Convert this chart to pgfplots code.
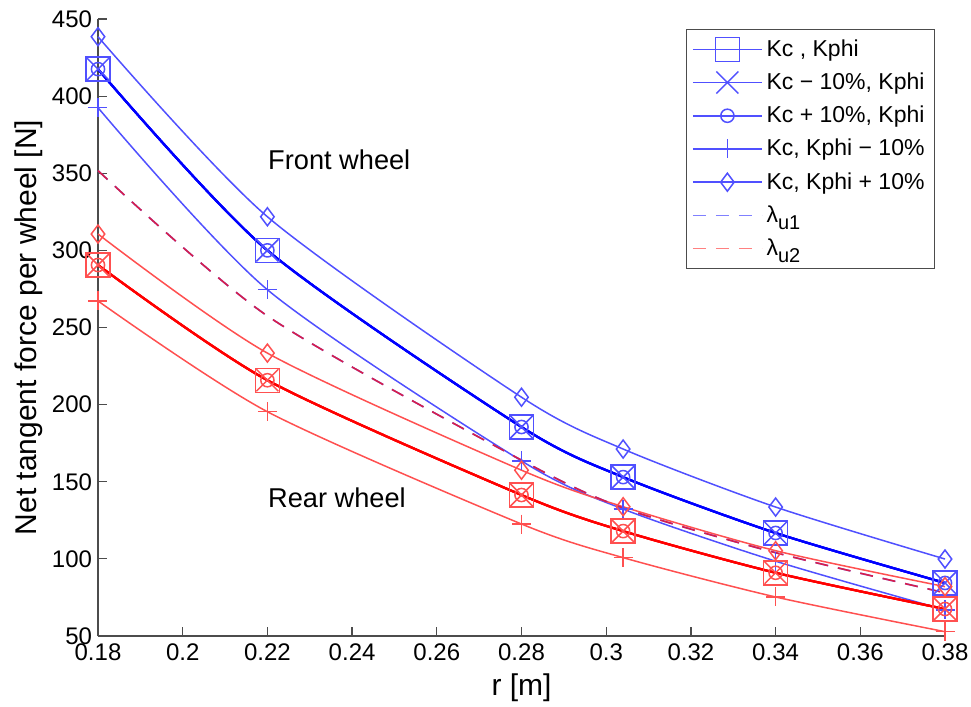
\documentclass[border=0pt]{standalone}
\usepackage{pgfplots}
\usepackage{pgfplotstable}
\pgfplotsset{compat=1.18}
\usepackage{fontspec}
\setmainfont{Liberation Sans}

\definecolor{fb}{RGB}{0,0,255}
\definecolor{fr}{RGB}{255,0,0}
\definecolor{fbl}{RGB}{80,80,255}
\definecolor{frl}{RGB}{255,80,80}
\definecolor{lamc}{RGB}{215,30,75}

% r, front (Kc Kphi, Kphi-10%, Kphi+10%), rear (same), dashed lambda
\pgfplotstableread{
r      fK     fKm    fKp    rK     rKm    rKp    lam
0.18   417.5  392.5  438.5  290.5  267.2  310.6  351.7
0.22   300.0  274.5  321.8  215.8  195.4  233.4  257.5
0.28   185.5  163.5  204.8  141.4  122.6  157.5  164.0
0.304  153.0  132.3  171.2  118.0  100.8  133.8  133.0
0.34   116.8   98.5  133.6   91.0   75.3  105.3  104.0
0.38    84.4   66.9   99.9   67.5   52.8   82.0   78.0
}\data

\begin{document}
\begin{tikzpicture}
\useasboundingbox (-49bp,-35.5bp) rectangle (436.5bp,318bp);
\begin{axis}[
    scale only axis,
    width=423.5bp, height=308.5bp,
    xmin=0.18, xmax=0.38, ymin=50, ymax=450,
    enlargelimits=false,
    clip=false,
    axis lines=left,
    axis line style={-, black!70, line width=0.6bp},
    tick align=inside,
    major tick length=4.5bp,
    tick style={black!70, line width=0.6bp},
    xtick={0.18,0.2,0.22,0.24,0.26,0.28,0.3,0.32,0.34,0.36,0.38},
    ytick={50,100,150,200,250,300,350,400,450},
    /pgf/number format/assume math mode=true,
    ticklabel style={font=\fontsize{12bp}{14bp}\selectfont, inner sep=2.8bp},
    xticklabel style={yshift=-0.8bp},
    xlabel={r [m]},
    ylabel={Net tangent force per wheel [N]},
    label style={font=\fontsize{15bp}{18bp}\selectfont},
    xlabel style={at={(axis description cs:0.5,-0.0843)}, anchor=center},
    ylabel style={at={(axis description cs:-0.0815,0.5)}, anchor=center},
    every axis plot/.append style={smooth, tension=0.45},
    legend style={at={(axis description cs:0.9882,0.9838)}, anchor=north east,
        draw=black!70, line width=0.5bp,
        font=\fontsize{11.5bp}{13bp}\selectfont,
        inner xsep=3bp, inner ysep=3bp, row sep=2.8bp},
    legend cell align=left,
    legend image code/.code={\draw[mark repeat=2,mark phase=2,#1]
        plot coordinates {(0bp,0bp) (17.25bp,0bp) (34.5bp,0bp)};},
    legend image post style={line width=0.75bp, draw=fbl},
]

% front wheel
\addplot[draw=fb, line width=1.1bp, mark=square, mark size=6bp, mark options={draw=fbl, line width=0.75bp}] table[x=r, y=fK] {\data};
\addlegendentry{Kc , Kphi}
\addplot[draw=fb, line width=1.1bp, mark=x, mark size=7.8bp, mark options={draw=fbl, line width=0.75bp}] table[x=r, y=fK] {\data};
\addlegendentry{Kc − 10\%, Kphi}
\addplot[draw=fb, line width=1.1bp, mark=o, mark size=3.3bp, mark options={draw=fbl, line width=0.75bp}] table[x=r, y=fK] {\data};
\addlegendentry{Kc + 10\%, Kphi}
\addplot[draw=fbl, line width=0.75bp, mark=+, mark size=4.75bp, mark options={draw=fbl}] table[x=r, y=fKm] {\data};
\addlegendentry{Kc, Kphi − 10\%}
\addplot[draw=fbl, line width=0.75bp, mark=diamond, mark size=4.5bp, mark options={draw=fbl}] table[x=r, y=fKp] {\data};
\addlegendentry{Kc, Kphi + 10\%}

% rear wheel
\addplot[draw=fr, line width=1.1bp, mark=square, mark size=6bp, mark options={draw=frl, line width=0.75bp}, forget plot] table[x=r, y=rK] {\data};
\addplot[draw=fr, line width=1.1bp, mark=x, mark size=7.8bp, mark options={draw=frl, line width=0.75bp}, forget plot] table[x=r, y=rK] {\data};
\addplot[draw=fr, line width=1.1bp, mark=o, mark size=3.3bp, mark options={draw=frl, line width=0.75bp}, forget plot] table[x=r, y=rK] {\data};
\addplot[draw=frl, line width=0.75bp, mark=+, mark size=4.75bp, mark options={draw=frl}, forget plot] table[x=r, y=rKm] {\data};
\addplot[draw=frl, line width=0.75bp, mark=diamond, mark size=4.5bp, mark options={draw=frl}, forget plot] table[x=r, y=rKp] {\data};

% lambda curves (coincide; drawn without transparency)
\addplot[draw=blue!60, line width=0.8bp, dash pattern=on 6.5bp off 5bp, legend image post style={draw=blue!50}] table[x=r, y=lam] {\data};
\addlegendentry{λ\raisebox{-0.6ex}{\fontsize{10bp}{11bp}\selectfont u1}}
\addplot[draw=lamc, line width=0.8bp, dash pattern=on 6.5bp off 5bp, legend image post style={draw=red!50}] table[x=r, y=lam] {\data};
\addlegendentry{λ\raisebox{-0.6ex}{\fontsize{10bp}{11bp}\selectfont u2}}

\node[anchor=west, inner sep=0pt, font=\fontsize{13.6bp}{16bp}\selectfont] at (axis cs:0.2201,358.6) {Front wheel};
\node[anchor=west, inner sep=0pt, font=\fontsize{13.6bp}{16bp}\selectfont] at (axis cs:0.2201,139.5) {Rear wheel};
\end{axis}
\end{tikzpicture}
\end{document}
